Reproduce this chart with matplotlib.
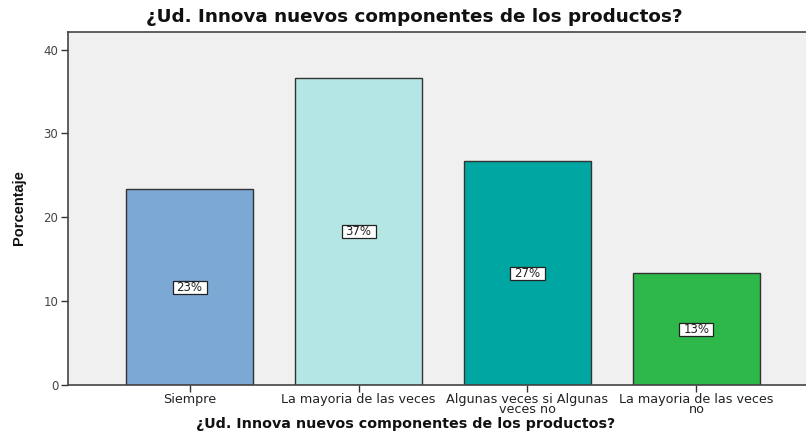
import matplotlib
matplotlib.use("Agg")
import matplotlib.pyplot as plt
from matplotlib.path import Path

categories = ["Siempre", "La mayoria de las veces", "Algunas veces si Algunas\nveces no", "La mayoria de las veces\nno"]
percentages = [23.33, 36.67, 26.67, 13.33]
bar_colors = ["#7BA8D5", "#B4E6E6", "#00A6A2", "#2EB84A"]
y_ticks = [0, 10, 20, 30, 40]
title_text = "¿Ud. Innova nuevos componentes de los productos?"
y_label = "Porcentaje"

W, H = 806, 434
fig = plt.figure(figsize=(W / 100, H / 100), dpi=100)
fig.patch.set_facecolor("white")

left, right, top, bottom = 68, 818, 32, 385
ax = fig.add_axes([left / W, 1 - bottom / H, (right - left) / W, (bottom - top) / H])
ax.set_facecolor("#F0F0F0")


def label_box(x0, y0, width, height, mutation_size):
    # wide, flat box around the value labels (pixel padding)
    px, py = 4.0, 0.0
    x0, y0 = x0 - px, y0 - py
    x1, y1 = x0 + width + 2 * px, y0 + height + 2 * py
    return Path([(x0, y0), (x1, y0), (x1, y1), (x0, y1), (x0, y0)], closed=True)


x = list(range(len(categories)))
ax.bar(x, percentages, width=0.75, color=bar_colors, edgecolor="#333333", linewidth=1.0, zorder=2)

for xi, v in zip(x, percentages):
    ax.text(xi, v / 2, f"{round(v):d}%", ha="center", va="center", fontsize=8.5,
            family="DejaVu Sans", color="#222222", zorder=3,
            bbox=dict(boxstyle=label_box, facecolor="white", edgecolor="#222222", linewidth=0.9))

ax.set_xlim(-0.72, 3.72)
ax.set_ylim(0, 42.1)
ax.set_yticks(y_ticks)
ax.set_xticks(x)
ax.set_xticklabels(categories, fontsize=9.2, family="DejaVu Sans", color="#222222", linespacing=0.72)
ax.tick_params(axis="y", labelsize=8.5, length=5, width=1, direction="out", pad=2, colors="#333333")
ax.tick_params(axis="x", length=5, width=1, direction="out", pad=0.5, colors="#333333")
for lbl in ax.get_yticklabels():
    lbl.set_family("DejaVu Sans")
    lbl.set_color("#444444")
for lbl in ax.get_xticklabels():
    lbl.set_color("#222222")

for s in ["left", "bottom", "top"]:
    ax.spines[s].set_color("#444444")
    ax.spines[s].set_linewidth(1.2)
ax.spines["right"].set_visible(False)

fig.text(414 / W, 1 - 17 / H, title_text, ha="center", va="center", fontsize=13.2,
         fontweight="bold", family="DejaVu Sans", color="#111111")
fig.text(406 / W, 1 - 424 / H, title_text, ha="center", va="center", fontsize=10.3,
         fontweight="bold", family="DejaVu Sans", color="#111111")
fig.text(19 / W, 1 - 208 / H, y_label, ha="center", va="center", rotation=90, fontsize=10.5,
         fontweight="bold", family=["Liberation Sans Narrow", "Liberation Sans"], color="#111111")

fig.savefig("out.png", dpi=100)
